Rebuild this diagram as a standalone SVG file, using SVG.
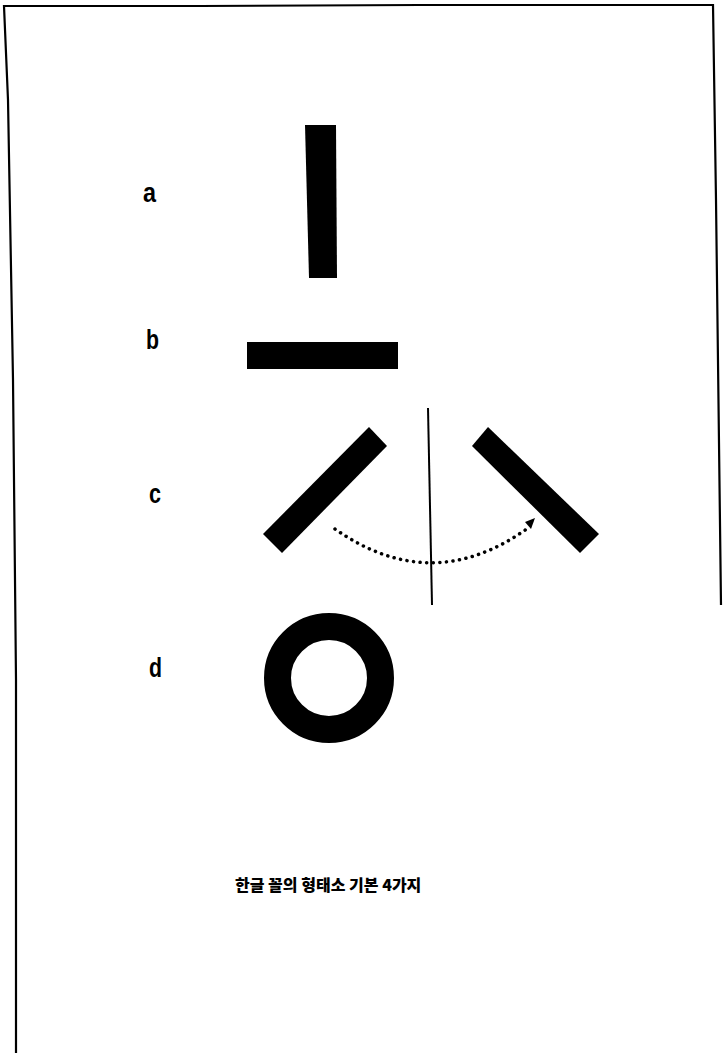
<svg xmlns="http://www.w3.org/2000/svg" width="723" height="1053" viewBox="0 0 723 1053">
<style>
.lbl{font-family:"Liberation Sans Narrow","Liberation Sans",Arial,sans-serif;font-size:27px;font-weight:bold;fill:#000}
.cap{font-family:"Noto Sans CJK KR","Noto Sans",sans-serif;font-size:16px;font-weight:900;fill:#000}
.shape{fill:#000}
.frame{fill:none;stroke:#000;stroke-width:2.2}
.axis{fill:none;stroke:#000;stroke-width:2}
.dots{fill:none;stroke:#000;stroke-width:3.5;stroke-dasharray:0.1 6.5;stroke-linecap:round}
</style>
<rect width="723" height="1053" fill="#fff"/>
<g id="frame">
<polyline class="frame" points="16,1053 16,680 13,380 8,100 4,6 200,6 420,5 713,5 716,200 721,605"/>
</g>
<g id="node-a">
<text class="lbl" x="143" y="202" textLength="13" lengthAdjust="spacingAndGlyphs">a</text>
<polygon class="shape" points="305,125 336,125 337,278 309,278"/>
</g>
<g id="node-b">
<text class="lbl" x="146" y="349" textLength="13" lengthAdjust="spacingAndGlyphs">b</text>
<rect class="shape" x="247" y="342" width="151" height="27"/>
</g>
<g id="node-c">
<text class="lbl" x="149" y="503" textLength="12" lengthAdjust="spacingAndGlyphs">c</text>
<polygon class="shape" points="369,427 387,446 282,553 263,534"/>
<polygon class="shape" points="488,427 472,446 580,553 599,534"/>
</g>
<g id="node-d">
<text class="lbl" x="149" y="677" textLength="13" lengthAdjust="spacingAndGlyphs">d</text>
<circle cx="329" cy="678" r="51.5" fill="none" stroke="#000" stroke-width="27"/>
</g>
<g id="connectors">
<line class="axis" x1="428" y1="408" x2="432" y2="605"/>
<path class="dots" d="M335,529 Q432,597 528,528"/>
<path d="M525,522 L535,518 L531,529 z" fill="#000"/>
</g>
<g id="caption">
<text class="cap" x="235" y="891">한글 꼴의 형태소 기본 4가지</text>
</g>
</svg>
